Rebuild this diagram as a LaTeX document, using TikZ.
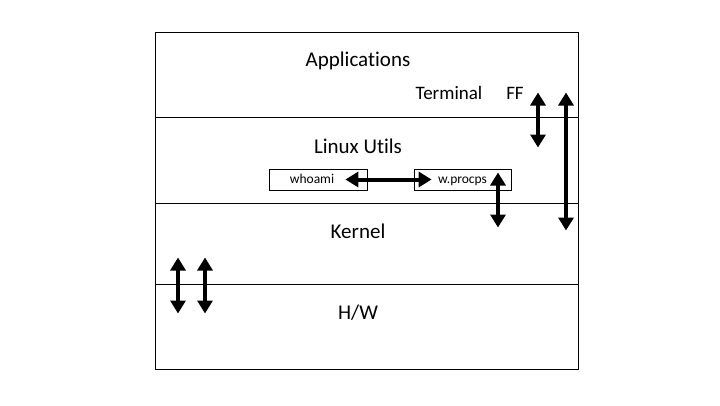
\documentclass[tikz,border=0pt]{standalone}
\usepackage{fontspec}
\setmainfont[Ligatures={NoCommon,NoRequired,NoContextual}]{Carlito}
\usetikzlibrary{arrows.meta}
\begin{document}
\begin{tikzpicture}[x=1pt,y=-1pt,
  frame/.style={draw=black,line width=0.9pt},
  layer/.style={font=\fontsize{21}{25}\selectfont,inner sep=0pt},
  small/.style={font=\fontsize{19}{22}\selectfont,inner sep=0pt},
  prog/.style={draw=black,line width=0.8pt,minimum height=21pt,inner sep=0pt,text height=9.5pt,text depth=2.5pt,font=\fontsize{13.5}{16}\selectfont},
  dbl/.style={line width=4pt,{Triangle[width=15pt,length=13pt]}-{Triangle[width=15pt,length=13pt]},shorten <=-0.5pt,shorten >=-0.5pt}]
\useasboundingbox (0,0) rectangle (720,405);
\draw[frame] (155,32) rectangle (578,369);
\draw[frame] (155,117) -- (578,117);
\draw[frame] (155,203) -- (578,203);
\draw[frame] (155,284) -- (578,284);
\node[layer] (apps) at (358,61) {Applications};
\node[layer] (utils) at (358,146) {Linux Utils};
\node[layer] (kernel) at (358,231) {Kernel};
\node[layer] (hw) at (358,313) {H/W};
\node[small] (term) at (449,93) {Terminal};
\node[small] (ff) at (515,93) {FF};
\node[prog,minimum width=98pt] (who) at (318,179.5) {\hspace*{-12pt}whoami};
\node[prog,minimum width=97pt] (wp) at (462.5,179.5) {w.procps};
\coordinate (a1t) at (538,93); \coordinate (a1b) at (538,147);
\coordinate (a2t) at (566,93); \coordinate (a2b) at (566,230);
\coordinate (a3t) at (498,173); \coordinate (a3b) at (498,227);
\coordinate (a4t) at (178,258); \coordinate (a4b) at (178,313);
\coordinate (a5t) at (205,258); \coordinate (a5b) at (205,313);
\draw[dbl,shorten <=-22pt,shorten >=-18pt] (who.east) -- (wp.west);
\draw[dbl] (a1t) -- (a1b);
\draw[dbl] (a2t) -- (a2b);
\draw[dbl] (a3t) -- (a3b);
\draw[dbl] (a4t) -- (a4b);
\draw[dbl] (a5t) -- (a5b);
\end{tikzpicture}
\end{document}
